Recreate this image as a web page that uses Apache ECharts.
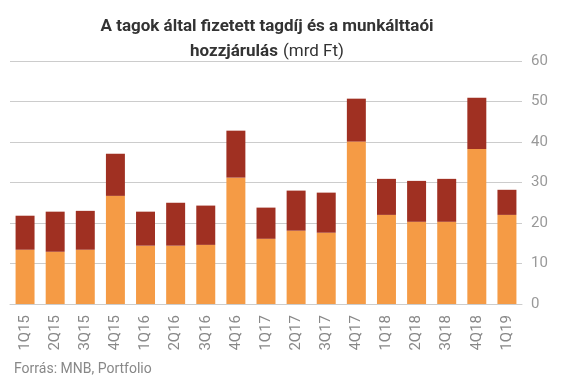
<!DOCTYPE html>
<html><head><meta charset="utf-8">
<script src="https://cdn.jsdelivr.net/npm/echarts@6/dist/echarts.min.js"></script>
<style>html,body{margin:0;padding:0;background:#fff}#c{width:569px;height:380px}</style>
</head><body><div id="c"></div>
<script>
const categories = ['1Q15','2Q15','3Q15','4Q15','1Q16','2Q16','3Q16','4Q16','1Q17','2Q17','3Q17','4Q17','1Q18','2Q18','3Q18','4Q18','1Q19'];
const tagdij = [13.4,12.9,13.4,26.7,14.4,14.4,14.6,31.2,16.1,18.1,17.6,40.1,22.0,20.3,20.3,38.3,22.0];
const munkaltatoi = [8.4,9.9,9.6,10.4,8.4,10.6,9.7,11.6,7.7,9.9,9.9,10.6,8.9,10.1,10.6,12.6,6.2];
const yTicks = [0,10,20,30,40,50,60];

const chart = echarts.init(document.getElementById('c'));
chart.setOption({
  animation:false,
  title:{
    text:'{b|A tagok által fizetett tagdíj és a munkálttaói}\n{b|hozzjárulás} {n|(mrd Ft)}',
    left:262, top:9, textAlign:'center',
    textStyle:{
      rich:{
        b:{fontFamily:'Roboto',fontWeight:'bold',fontSize:17,color:'#333',lineHeight:25},
        n:{fontFamily:'Roboto',fontWeight:'normal',fontSize:17,color:'#333',lineHeight:25}
      }
    }
  },
  graphic:[{type:'text',left:14,top:362,style:{text:'Forrás: MNB, Portfolio',fontFamily:'Roboto',fontSize:14,fill:'#888'}}],
  grid:{left:10,right:47,top:61,bottom:76},
  xAxis:{
    type:'category', data:categories,
    axisLine:{lineStyle:{color:'#ccc'}},
    axisTick:{show:false},
    axisLabel:{rotate:90,color:'#888',fontFamily:'Roboto',fontSize:15,margin:11,interval:0}
  },
  yAxis:{
    type:'value', position:'right', min:yTicks[0], max:yTicks[yTicks.length-1], interval:10,
    splitLine:{lineStyle:{color:'#ccc',width:1}},
    axisLine:{show:false}, axisTick:{show:false},
    axisLabel:{color:'#999',fontFamily:'Roboto',fontSize:15,margin:9}
  },
  series:[
    {type:'bar',stack:'a',data:tagdij,barWidth:'63%',itemStyle:{color:'#F59B45'}},
    {type:'bar',stack:'a',data:munkaltatoi,barWidth:'63%',itemStyle:{color:'#A03022'}}
  ]
});
</script></body></html>
